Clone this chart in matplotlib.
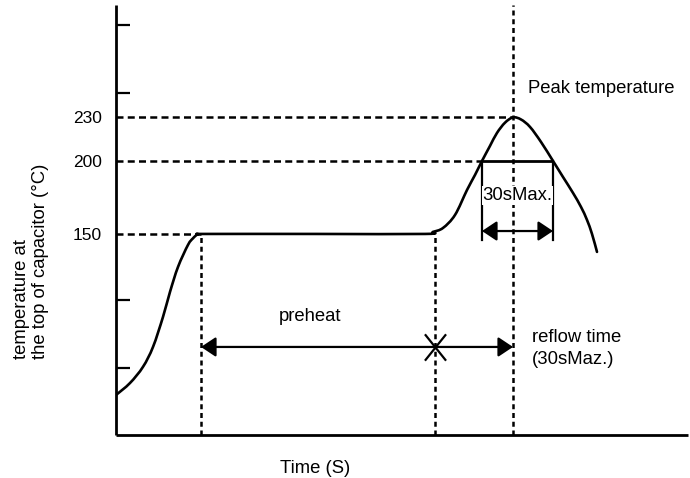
import matplotlib
matplotlib.use("Agg")
import matplotlib.pyplot as plt
from matplotlib.path import Path
from matplotlib.patches import PathPatch

plt.rcParams['font.family'] = ['Liberation Sans', 'DejaVu Sans']

# ---- data (time in arbitrary units, temperature in degC) ----
curve_time = [0, 14, 27, 37, 47, 54, 62, 72, 77, 82, 91, 200, 309, 317, 327, 339,
              351, 359, 366, 374, 381, 389, 397, 405, 414, 425, 437, 447, 457,
              465, 471, 476, 481]
curve_temp = [39.7, 47.9, 59.0, 72.6, 93.2, 110.3, 127.4, 142.5, 147.0, 149.7, 150.0,
              150.0, 150.0, 151.4, 154.1, 163.0, 180.1, 190.4, 200.0, 210.3, 219.2,
              226.2, 229.8, 228.4, 223.3, 213.0, 200.0, 189.0, 178.1, 168.5, 159.6,
              150.0, 137.7]

preheat_start = 85
preheat_end = 319
peak_time = 397
t200_in = 366
t200_out = 437

temp_preheat = 150
temp_reflow = 200
temp_peak = 230

label_ticks = [150, 200, 230]
label_texts = ['150', '200', '230']
mark_ticks = [58.2, 104.8, 200, 246.6, 293.2]

preheat_arrow_temp = 72.6
reflow_arrow_temp = 152
reflow_bar_bottom = 146

ylim = (12.3, 306.8)
xlim = (0, 572)

# ---- figure ----
fig = plt.figure(figsize=(6.9, 4.78), dpi=100)
ax = fig.add_axes([116 / 690, 43 / 478, 572 / 690, 430 / 478])
ax.set_xlim(*xlim)
ax.set_ylim(*ylim)

for s in ['top', 'right']:
    ax.spines[s].set_visible(False)
for s in ['left', 'bottom']:
    ax.spines[s].set_linewidth(2.0)
    ax.spines[s].set_capstyle('butt')

ax.set_xticks([])
ax.set_yticks(label_ticks)
ax.set_yticklabels(label_texts, fontsize=12.5)
ax.tick_params(axis='y', which='major', length=0, pad=10)
ax.set_yticks(mark_ticks, minor=True)
ax.tick_params(axis='y', which='minor', direction='in', length=10, width=1.6)

dash_h = (2.8, 1.7)
dash_v = (2.0, 1.5)
dlw = 1.8

# horizontal dashed guides
ax.plot([0, peak_time], [temp_peak, temp_peak], color='black', lw=dlw, dashes=dash_h)
ax.plot([0, t200_in], [temp_reflow, temp_reflow], color='black', lw=dlw, dashes=dash_h)
ax.plot([0, preheat_start], [temp_preheat, temp_preheat], color='black', lw=dlw, dashes=dash_h)

# vertical dashed guides
ax.plot([preheat_start, preheat_start], [ylim[0], temp_preheat], color='black', lw=dlw, dashes=dash_v)
ax.plot([preheat_end, preheat_end], [ylim[0], temp_preheat], color='black', lw=dlw, dashes=dash_v)
ax.plot([peak_time, peak_time], [ylim[0], ylim[1]], color='black', lw=dlw, dashes=dash_v)

# solid reflow bracket
ax.plot([t200_in, t200_out], [temp_reflow, temp_reflow], color='black', lw=2.0, solid_capstyle='butt')
ax.plot([t200_in, t200_in], [reflow_bar_bottom, temp_reflow], color='black', lw=1.6)
ax.plot([t200_out, t200_out], [reflow_bar_bottom, temp_reflow], color='black', lw=1.6)

# profile curve: smooth path through the read points (Catmull-Rom as Bezier segments)
pts = list(zip(curve_time, curve_temp))
verts = [pts[0]]
codes = [Path.MOVETO]
n = len(pts)
for i in range(n - 1):
    p0 = pts[i - 1] if i > 0 else pts[i]
    p1 = pts[i]
    p2 = pts[i + 1]
    p3 = pts[i + 2] if i + 2 < n else pts[i + 1]
    c1 = (p1[0] + (p2[0] - p0[0]) / 6, p1[1] + (p2[1] - p0[1]) / 6)
    c2 = (p2[0] - (p3[0] - p1[0]) / 6, p2[1] - (p3[1] - p1[1]) / 6)
    verts += [c1, c2, p2]
    codes += [Path.CURVE4] * 3
ax.add_patch(PathPatch(Path(verts, codes), facecolor='none', edgecolor='black',
                       lw=1.9, capstyle='round', joinstyle='round', zorder=5))

# arrows
arrow_kw = dict(arrowstyle='<|-|>,head_length=0.45,head_width=0.3', color='black',
                lw=1.6, shrinkA=0, shrinkB=0, mutation_scale=20)
ax.annotate('', xy=(preheat_start, preheat_arrow_temp), xytext=(peak_time, preheat_arrow_temp),
            arrowprops=arrow_kw)
ax.annotate('', xy=(t200_in, reflow_arrow_temp), xytext=(t200_out, reflow_arrow_temp),
            arrowprops=arrow_kw)

# X mark at end of preheat
xmark = Path([(-0.8, -1), (0.8, 1), (-0.8, 1), (0.8, -1)],
             [Path.MOVETO, Path.LINETO, Path.MOVETO, Path.LINETO])
ax.plot([preheat_end], [preheat_arrow_temp], marker=xmark, markersize=19,
        markeredgewidth=1.6, color='black', linestyle='none', zorder=6)

# texts
fs = 13.3
ax.text(412, 246.6, 'Peak temperature', fontsize=fs, ha='left', va='baseline')
ax.text((t200_in + t200_out) / 2, 173.3, '30sMax.', fontsize=fs, ha='center', va='baseline',
        bbox=dict(facecolor='white', edgecolor='none', pad=0.5), zorder=7)
ax.text(194, 90.4, 'preheat', fontsize=fs, ha='center', va='baseline')
ax.text(416, 76.0, 'reflow time', fontsize=fs, ha='left', va='baseline')
ax.text(416, 61.0, '(30sMaz.)', fontsize=fs, ha='left', va='baseline')

fig.text(315 / 690, 1 - 473 / 478, 'Time (S)', fontsize=fs, ha='center', va='baseline')
fig.text(31 / 690, 1 - 261.5 / 478, 'temperature at\nthe top of capacitor (°C)', fontsize=fs,
         rotation=90, ha='center', va='center', multialignment='left', linespacing=1.15)

fig.savefig('out.png', dpi=100)
